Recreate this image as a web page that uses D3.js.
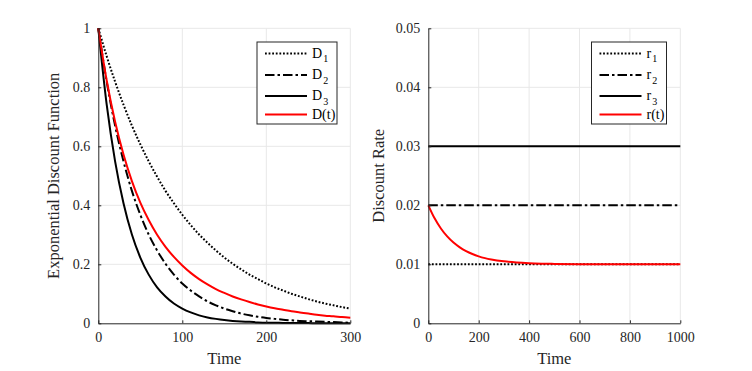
<!DOCTYPE html>
<html>

<head>
    <meta charset="utf-8">
    <title>Discount functions</title>
    <script src="https://d3js.org/d3.v7.min.js"></script>
</head>

<style>
    body {
        margin: 0px;
        background-color: white;
        overflow: hidden;
    }

    text {
        font-family: "Liberation Serif", serif;
    }

    .grid line {
        stroke: rgb(232, 232, 232);
        stroke-width: 1px;
    }

    .axis path,
    .axis line {
        stroke: rgb(38, 38, 38);
        stroke-width: 1px;
    }

    .axis text {
        fill: rgb(38, 38, 38);
        font-size: 14px;
        font-family: "Liberation Serif", serif;
    }

    .series {
        fill: none;
        stroke-width: 2px;
    }
</style>

<body>
    <svg id="svg"></svg>

    <script>
        // left panel: discount functions, sampled every 10 time units
        var timeD = [0, 10, 20, 30, 40, 50, 60, 70, 80, 90, 100, 110, 120, 130, 140, 150,
            160, 170, 180, 190, 200, 210, 220, 230, 240, 250, 260, 270, 280, 290, 300]
        var d1 = [1, 0.905, 0.819, 0.741, 0.670, 0.607, 0.549, 0.497, 0.449, 0.407, 0.368, 0.333, 0.301, 0.273, 0.247, 0.223,
            0.202, 0.183, 0.165, 0.150, 0.135, 0.122, 0.111, 0.100, 0.091, 0.082, 0.074, 0.067, 0.061, 0.055, 0.050]
        var d2 = [1, 0.819, 0.670, 0.549, 0.449, 0.368, 0.301, 0.247, 0.202, 0.165, 0.135, 0.111, 0.091, 0.074, 0.061, 0.050,
            0.041, 0.033, 0.027, 0.022, 0.018, 0.015, 0.012, 0.010, 0.008, 0.007, 0.006, 0.005, 0.004, 0.003, 0.002]
        var d3s = [1, 0.741, 0.549, 0.407, 0.301, 0.223, 0.165, 0.122, 0.091, 0.067, 0.050, 0.037, 0.027, 0.020, 0.015, 0.011,
            0.008, 0.006, 0.005, 0.003, 0.002, 0.002, 0.001, 0.001, 0.001, 0.001, 0, 0, 0, 0, 0]
        var dT = [1, 0.823, 0.683, 0.572, 0.482, 0.409, 0.350, 0.300, 0.259, 0.225, 0.196, 0.171, 0.150, 0.132, 0.116, 0.103,
            0.091, 0.081, 0.072, 0.064, 0.057, 0.051, 0.046, 0.041, 0.037, 0.033, 0.029, 0.026, 0.024, 0.021, 0.019]

        // right panel: discount rates
        var timeR = [0, 25, 50, 75, 100, 125, 150, 175, 200, 225, 250, 300, 350, 400, 450, 500, 600, 700, 800, 900, 1000]
        var rT = [0.02000, 0.01779, 0.01607, 0.01472, 0.01368, 0.01287, 0.01223, 0.01174, 0.01135, 0.01105, 0.01082,
            0.01050, 0.01030, 0.01018, 0.01011, 0.01007, 0.01002, 0.01001, 0.01000, 0.01000, 0.01000]
        var rates = [0.01, 0.02, 0.03]

        // ticks
        var xTicksLeft = [0, 100, 200, 300]
        var yTicksLeft = [0, 0.2, 0.4, 0.6, 0.8, 1]
        var yLabelsLeft = ["0", "0.2", "0.4", "0.6", "0.8", "1"]
        var xTicksRight = [0, 200, 400, 600, 800, 1000]
        var yTicksRight = [0, 0.01, 0.02, 0.03, 0.04, 0.05]
        var yLabelsRight = ["0", "0.01", "0.02", "0.03", "0.04", "0.05"]

        var width = 752
        var height = 371

        var dotted = "1.8,1.8"
        var dashdot = "9.5,3,2.5,3"

        var svg = d3.select("svg")
            .attr("width", width)
            .attr("height", height)

        var plotTop = 28.3
        var plotBottom = 323.3

        function drawPanel(cfg) {
            var x = d3.scaleLinear().domain(cfg.xDomain).range([cfg.left, cfg.left + 252])
            var y = d3.scaleLinear().domain(cfg.yDomain).range([plotBottom, plotTop])

            var g = svg.append("g")

            // grid
            var grid = g.append("g").attr("class", "grid")
            grid.selectAll(".gx")
                .data(cfg.xTicks.slice(1))
                .join("line")
                .attr("class", "gx")
                .attr("x1", d => x(d)).attr("x2", d => x(d))
                .attr("y1", plotTop).attr("y2", plotBottom)
            grid.selectAll(".gy")
                .data(cfg.yTicks.slice(1))
                .join("line")
                .attr("class", "gy")
                .attr("x1", x.range()[0]).attr("x2", x.range()[1])
                .attr("y1", d => y(d)).attr("y2", d => y(d))

            // series
            var line = d3.line()
                .x(d => x(d[0]))
                .y(d => y(d[1]))
                .curve(d3.curveMonotoneX)

            cfg.series.forEach(function (s) {
                g.append("path")
                    .datum(s.t.map((t, i) => [t, s.v[i]]))
                    .attr("class", "series")
                    .attr("d", line)
                    .attr("stroke", s.color)
                    .attr("stroke-dasharray", s.dash)
            })

            // axes
            g.append("g")
                .attr("class", "axis")
                .attr("transform", "translate(0," + plotBottom + ")")
                .call(d3.axisBottom(x)
                    .tickValues(cfg.xTicks)
                    .tickFormat(d3.format("d"))
                    .tickSizeInner(-3)
                    .tickSizeOuter(0)
                    .tickPadding(9))

            g.append("g")
                .attr("class", "axis")
                .attr("transform", "translate(" + cfg.left + ",0)")
                .call(d3.axisLeft(y)
                    .tickValues(cfg.yTicks)
                    .tickFormat((d, i) => cfg.yLabels[i])
                    .tickSizeInner(-3)
                    .tickSizeOuter(0)
                    .tickPadding(8))

            // axis titles
            g.append("text")
                .attr("x", cfg.left + 126)
                .attr("y", 364)
                .attr("text-anchor", "middle")
                .attr("font-size", "16.5px")
                .attr("fill", "rgb(38,38,38)")
                .text("Time")

            g.append("text")
                .attr("transform", "translate(" + cfg.yTitleX + "," + ((plotTop + plotBottom) / 2) + ") rotate(-90)")
                .attr("text-anchor", "middle")
                .attr("font-size", "16.5px")
                .attr("fill", "rgb(38,38,38)")
                .text(cfg.yTitle)

            // legend
            var lg = g.append("g")
                .attr("transform", "translate(" + cfg.legendX + ",42)")
            lg.append("rect")
                .attr("width", cfg.legendW)
                .attr("height", 82)
                .attr("fill", "white")
                .attr("stroke", "rgb(38,38,38)")
                .attr("stroke-width", 1)

            var rowY = [11.5, 33, 54, 72.5]
            cfg.series.forEach(function (s, i) {
                lg.append("line")
                    .attr("x1", 8).attr("x2", 50)
                    .attr("y1", rowY[i]).attr("y2", rowY[i])
                    .attr("stroke", s.color)
                    .attr("stroke-width", 2)
                    .attr("stroke-dasharray", s.dash)
                var t = lg.append("text")
                    .attr("x", 55)
                    .attr("y", rowY[i] + 4)
                    .attr("font-size", "14px")
                    .attr("fill", "black")
                    .text(s.name)
                if (s.sub) {
                    t.append("tspan")
                        .attr("dy", 4.5)
                        .attr("dx", 1)
                        .attr("font-size", "10px")
                        .text(s.sub)
                }
            })
        }

        drawPanel({
            left: 98.3,
            xDomain: [0, 300],
            yDomain: [0, 1],
            xTicks: xTicksLeft,
            yTicks: yTicksLeft,
            yLabels: yLabelsLeft,
            yTitle: "Exponential Discount Function",
            yTitleX: 59,
            legendX: 257,
            legendW: 80,
            series: [
                { t: timeD, v: d1, color: "black", dash: dotted, name: "D", sub: "1" },
                { t: timeD, v: d2, color: "black", dash: dashdot, name: "D", sub: "2" },
                { t: timeD, v: d3s, color: "black", dash: null, name: "D", sub: "3" },
                { t: timeD, v: dT, color: "red", dash: null, name: "D(t)", sub: null }
            ]
        })

        var rateEnds = [timeR[0], timeR[timeR.length - 1]]

        drawPanel({
            left: 428.3,
            xDomain: [0, 1000],
            yDomain: [0, 0.05],
            xTicks: xTicksRight,
            yTicks: yTicksRight,
            yLabels: yLabelsRight,
            yTitle: "Discount Rate",
            yTitleX: 384,
            legendX: 591.5,
            legendW: 75,
            series: [
                { t: rateEnds, v: [rates[0], rates[0]], color: "black", dash: dotted, name: "r", sub: "1" },
                { t: rateEnds, v: [rates[1], rates[1]], color: "black", dash: dashdot, name: "r", sub: "2" },
                { t: rateEnds, v: [rates[2], rates[2]], color: "black", dash: null, name: "r", sub: "3" },
                { t: timeR, v: rT, color: "red", dash: null, name: "r(t)", sub: null }
            ]
        })
    </script>
</body>

</html>
